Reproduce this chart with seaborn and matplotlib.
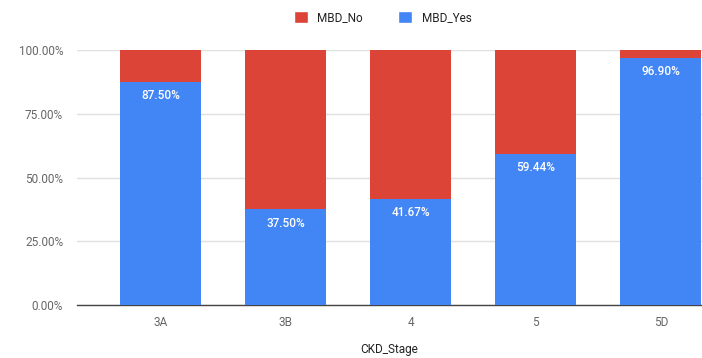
import matplotlib
matplotlib.use("Agg")
import matplotlib.pyplot as plt
import seaborn as sns
import pandas as pd
from matplotlib.patches import Patch

stages = ["3A", "3B", "4", "5", "5D"]
mbd_yes = [87.50, 37.50, 41.67, 59.44, 96.90]
mbd_no = [12.50, 62.50, 58.33, 40.56, 3.10]

RED = "#DB4437"
BLUE = "#4285F4"

df = pd.DataFrame({"CKD_Stage": stages, "MBD_Yes": mbd_yes, "MBD_No": mbd_no})
df["Total"] = df["MBD_Yes"] + df["MBD_No"]

sns.set_theme(style="white")
plt.rcParams["font.family"] = ["Roboto", "DejaVu Sans"]

fig = plt.figure(figsize=(7.02, 3.58), dpi=100)
ax = fig.add_axes([0.1097, 0.148, 0.8903, 0.712])

# stacked bars: full-height red (MBD_No on top), blue MBD_Yes underneath
sns.barplot(data=df, x="CKD_Stage", y="Total", color=RED, width=0.645,
            saturation=1, linewidth=0, ax=ax, zorder=2)
sns.barplot(data=df, x="CKD_Stage", y="MBD_Yes", color=BLUE, width=0.645,
            saturation=1, linewidth=0, ax=ax, zorder=3)

for i, v in enumerate(df["MBD_Yes"]):
    ax.annotate(f"{v:.2f}%", (i, v), xytext=(0, -10), textcoords="offset points",
                ha="center", va="center", color="white", fontsize=8.5,
                fontweight="medium", zorder=4)

ax.set_xlim(-0.67, 4.33)
ax.set_ylim(0, 100)
ax.set_yticks([0, 25, 50, 75, 100])
ax.set_yticklabels([f"{t:.2f}%" for t in [0, 25, 50, 75, 100]])
ax.yaxis.grid(True, color="#e0e0e0", linewidth=1, zorder=0)
ax.set_axisbelow(True)
for s in ["top", "right", "left"]:
    ax.spines[s].set_visible(False)
ax.spines["bottom"].set_color("#444444")
ax.spines["bottom"].set_linewidth(1)
ax.tick_params(axis="both", length=0, colors="#666666", labelsize=8.5)
ax.tick_params(axis="x", pad=8)
ax.tick_params(axis="y", pad=10)
ax.set_ylabel("")
ax.set_xlabel("CKD_Stage", fontsize=8.5, color="#222222", labelpad=10)

handles = [Patch(facecolor=RED, label="MBD_No"), Patch(facecolor=BLUE, label="MBD_Yes")]
fig.legend(handles=handles, loc="center", bbox_to_anchor=(0.545, 0.95), ncol=2,
           frameon=False, fontsize=8.5, handlelength=1.2, handleheight=1.2,
           columnspacing=3.0, handletextpad=0.8, labelcolor="#222222")

fig.savefig("out.png", dpi=100)
